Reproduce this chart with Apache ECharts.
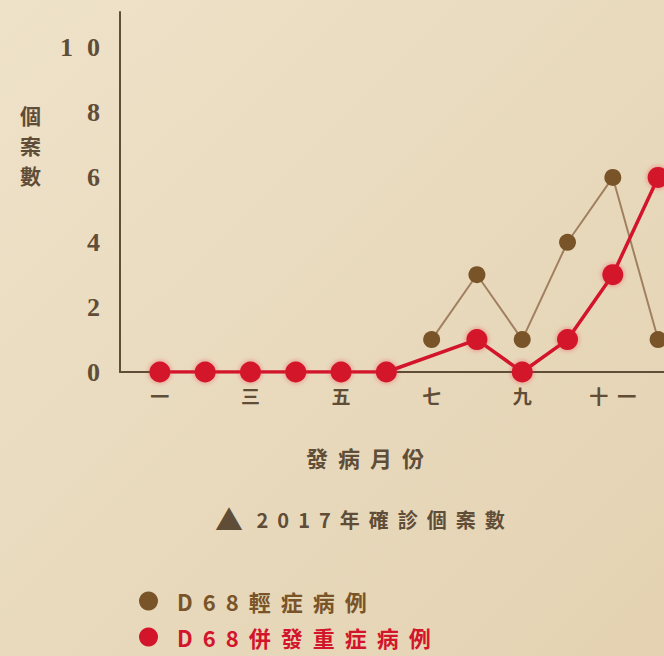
<!DOCTYPE html>
<html>
<head>
<meta charset="utf-8">
<script src="https://cdn.jsdelivr.net/npm/echarts@6/dist/echarts.min.js"></script>
<style>
  html, body { margin: 0; padding: 0; background: #e8d8ba; }
  #chart { width: 664px; height: 656px; }
</style>
</head>
<body>
<div id="chart"></div>
<script>
// 2017 enterovirus D68 cases by month of onset
const monthNames = ['一', '二', '三', '四', '五', '六', '七', '八', '九', '十', '十一', '十二'];
const monthNumbers = [1, 2, 3, 4, 5, 6, 7, 8, 9, 10, 11, 12];
const labelledMonths = [1, 3, 5, 7, 9, 11];
const yTicks = [0, 2, 4, 6, 8, 10];
const mildCases = [null, null, null, null, null, null, 1, 3, 1, 4, 6, 1];
const severeCases = [0, 0, 0, 0, 0, 0, null, 1, 0, 1, 3, 6];
const seriesNames = ['D68輕症病例', 'D68併發重症病例'];

const BROWN = '#7a5429';
const BROWN_LINE = '#a08060';
const RED = '#d3152b';
const INK = '#5f4d38';
const CJK = '"Noto Sans CJK TC", "Noto Sans CJK SC", sans-serif';

const pairs = (vals) => monthNumbers.map((m, i) => [m, vals[i]]);

const chart = echarts.init(document.getElementById('chart'), null, { renderer: 'svg' });
chart.setOption({
  backgroundColor: {
    type: 'linear', x: 0, y: 0, x2: 1, y2: 1,
    colorStops: [
      { offset: 0, color: '#eee2c9' },
      { offset: 1, color: '#e4d2b2' }
    ]
  },
  animation: false,
  grid: { left: 120, right: 0, top: 12, bottom: 284 },
  title: {
    text: '{tri|▲} 2017年確診個案數',
    left: 210, top: 500,
    textStyle: {
      fontFamily: CJK, fontSize: 20, fontWeight: 'bold', color: INK,
      rich: { tri: { fontFamily: CJK, fontSize: 28, color: INK } }
    }
  },
  graphic: [{
    type: 'text', left: 20, top: 100,
    style: {
      text: '個\n案\n數', fill: INK, font: 'bold 21px ' + CJK, lineHeight: 30
    }
  }],
  legend: {
    orient: 'vertical', left: 134, top: 585, itemGap: 14,
    icon: 'circle', itemWidth: 19, itemHeight: 19,
    textStyle: { fontFamily: CJK, fontSize: 22, fontWeight: 'bold', padding: [0, 0, 0, 14] },
    data: [
      { name: seriesNames[0], textStyle: { color: BROWN } },
      { name: seriesNames[1], textStyle: { color: RED } }
    ]
  },
  xAxis: {
    type: 'value', min: 0.12, max: 12.13,
    name: '發病月份', nameLocation: 'middle', nameGap: 74,
    nameTextStyle: { fontFamily: CJK, fontSize: 22, fontWeight: 'bold', color: INK, padding: [0, 0, 0, -54] },
    axisLine: { show: true, lineStyle: { color: INK, width: 2 } },
    axisTick: { show: false },
    splitLine: { show: false },
    axisLabel: {
      customValues: labelledMonths,
      formatter: (v) => monthNames[monthNumbers.indexOf(v)],
      margin: 14, fontFamily: CJK, fontSize: 19, fontWeight: 'bold', color: INK
    }
  },
  yAxis: {
    type: 'value', min: 0, max: 11.1, interval: 2,
    axisLine: { show: true, lineStyle: { color: INK, width: 2 } },
    axisTick: { show: false },
    splitLine: { show: false },
    axisLabel: {
      customValues: yTicks,
      margin: 20, fontFamily: '"Liberation Serif", serif', fontWeight: 'bold',
      fontSize: 26, color: INK, padding: [12, 0, 0, 0]
    }
  },
  series: [
    {
      name: seriesNames[0], type: 'line', data: pairs(mildCases),
      symbol: 'circle', symbolSize: 17,
      itemStyle: { color: BROWN },
      lineStyle: { color: BROWN_LINE, width: 2 },
      z: 2
    },
    {
      name: seriesNames[1], type: 'line', data: pairs(severeCases),
      connectNulls: true,
      symbol: 'circle', symbolSize: 21,
      itemStyle: { color: RED, shadowBlur: 5, shadowColor: 'rgba(230,30,50,0.5)' },
      lineStyle: { color: RED, width: 3.5 },
      z: 3
    }
  ]
});

// Wide tracking on the printed labels; the anchor offset keeps centred and
// right-aligned texts where the layout put them.
function trackingFor(str) {
  if (str === '10') return 14;
  if (/^\d+$/.test(str)) return 0;
  if (seriesNames.includes(str)) return 10;
  if (str === '發病月份') return 10;
  return 9;
}
function applyTracking() {
  document.querySelectorAll('#chart svg text').forEach((t) => {
    const str = t.textContent;
    if (!str || str.length < 2) return;
    const s = trackingFor(str);
    if (!s) return;
    t.style.letterSpacing = s + 'px';
    const anchor = t.getAttribute('text-anchor') || t.style.textAnchor;
    if (anchor === 'middle') t.setAttribute('dx', s / 2);
    else if (anchor === 'end') t.setAttribute('dx', s);
  });
}
chart.on('finished', applyTracking);
applyTracking();
setTimeout(applyTracking, 50);
</script>
</body>
</html>
